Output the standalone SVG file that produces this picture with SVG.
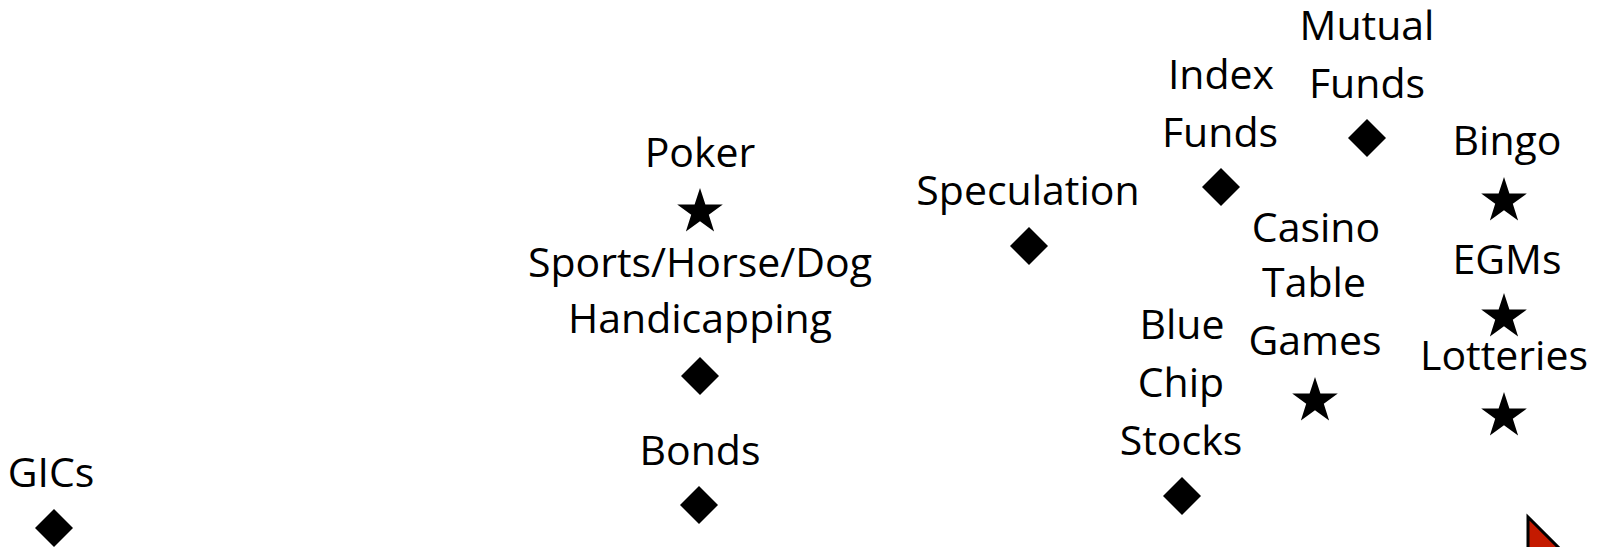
<svg xmlns="http://www.w3.org/2000/svg" width="1603" height="547" viewBox="0 0 1603 547">
<style>
text{font-family:"Open Sans","Noto Sans",sans-serif;font-size:41px;fill:#000;text-anchor:middle}
.d,.s{fill:#000}
</style>
<defs>
<polygon id="dia" points="0,-19 19,0 0,19 -19,0"/>
<polygon id="star" points="0,-24 5.4,-7.4 22.8,-7.4 8.8,2.8 14.1,19.4 0,9.2 -14.1,19.4 -8.8,2.8 -22.8,-7.4 -5.4,-7.4"/>
</defs>
<rect width="1603" height="547" fill="#fff"/>
<g id="gics"><text x="51" y="487">GICs</text><use href="#dia" class="d" x="54" y="528"/></g>
<g id="poker"><text x="700" y="167">Poker</text><use href="#star" class="s" x="700" y="212"/></g>
<g id="handicapping"><text x="700" y="277">Sports/Horse/Dog</text><text x="700" y="333">Handicapping</text><use href="#dia" class="d" x="700" y="376"/></g>
<g id="bonds"><text x="700" y="465">Bonds</text><use href="#dia" class="d" x="699" y="505"/></g>
<g id="speculation"><text x="1028" y="205">Speculation</text><use href="#dia" class="d" x="1029" y="246"/></g>
<g id="index-funds"><text x="1221" y="89">Index</text><text x="1220" y="147">Funds</text><use href="#dia" class="d" x="1221" y="187"/></g>
<g id="mutual-funds"><text x="1367" y="40">Mutual</text><text x="1367" y="98">Funds</text><use href="#dia" class="d" x="1367" y="138"/></g>
<g id="blue-chip"><text x="1182" y="339">Blue</text><text x="1181" y="397">Chip</text><text x="1181" y="455">Stocks</text><use href="#dia" class="d" x="1182" y="496"/></g>
<g id="casino"><text x="1316" y="242">Casino</text><text x="1314" y="297">Table</text><text x="1315" y="355">Games</text><use href="#star" class="s" x="1315" y="401"/></g>
<g id="bingo"><text x="1507" y="155">Bingo</text><use href="#star" class="s" x="1504" y="201"/></g>
<g id="egms"><text x="1507" y="274">EGMs</text><use href="#star" class="s" x="1504" y="317"/></g>
<g id="lotteries"><text x="1504" y="370">Lotteries</text><use href="#star" class="s" x="1504" y="416"/></g>
<g id="connectors"></g>
<polygon points="1528,517 1575,564 1528,564" fill="#C41A00" stroke="#000" stroke-width="3"/>
</svg>
